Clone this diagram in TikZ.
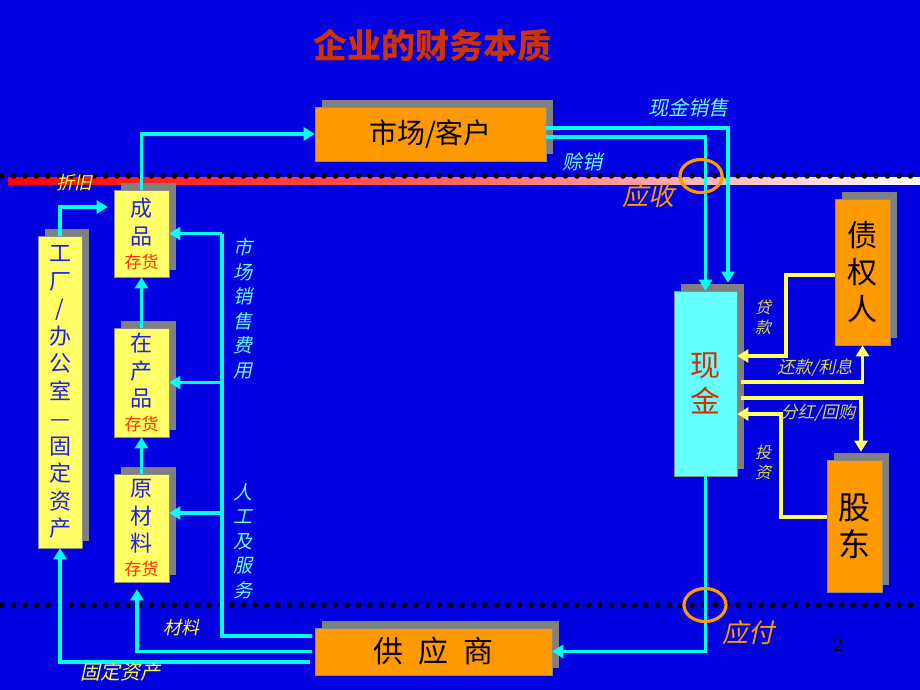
\documentclass[tikz,border=0pt]{standalone}
\usepackage{fontspec}
\setmainfont{Noto Sans CJK SC}
\newfontfamily\cjk{Noto Sans CJK SC}
\newfontfamily\cjki[FakeSlant=0.22]{Noto Sans CJK SC}
\newfontfamily\sernum{Liberation Serif}
\usetikzlibrary{arrows.meta,shadows,shapes.geometric}
\definecolor{bg}{HTML}{0000E0}
\definecolor{boxor}{HTML}{FF9900}
\definecolor{boxye}{HTML}{FFFF66}
\definecolor{boxcy}{HTML}{66FFFF}
\definecolor{shad}{HTML}{808080}
\definecolor{linecy}{HTML}{00FFFF}
\definecolor{lineye}{HTML}{FFFF66}
\definecolor{titlec}{HTML}{CC3300}
\definecolor{txtblue}{HTML}{2020E6}
\definecolor{inv}{HTML}{FF3300}
\definecolor{lblcy}{HTML}{66FFFF}
\definecolor{lblye}{HTML}{FFFF33}
\definecolor{lblol}{HTML}{DADA4A}
\tikzset{
  box/.style={rectangle, inner sep=0pt, draw=black!45, line width=0.6pt,
    general shadow={fill=shad, draw=none, shadow xshift=7pt, shadow yshift=7pt}},
  orbox/.style={box, fill=boxor, text=black},
  yebox/.style={box, fill=boxye, text=txtblue, align=center, minimum width=55pt},
  cl/.style={draw=linecy, line width=3.8pt, -{Triangle[length=11pt,width=13pt]}},
  cln/.style={draw=linecy, line width=3.8pt},
  yl/.style={draw=lineye, line width=3.8pt, -{Triangle[length=11pt,width=13pt]}},
  lbl/.style={inner sep=0pt, align=center},
  ring/.style={ellipse, draw=boxor, line width=3.2pt, minimum width=42pt, minimum height=33pt, inner sep=0pt},
}
\begin{document}
\begin{tikzpicture}[x=1pt,y=-1pt]
\fill[bg] (0,0) rectangle (920,690);
\useasboundingbox (0,0) rectangle (920,690);
% separator bar and dotted lines
\shade[left color=red, right color=white, middle color=red!60!white] (8,177) rectangle (920,184);
\draw[line width=5.5pt, line cap=round, dash pattern=on 0pt off 11.5pt] (2,176) -- (920,176);
\draw[line width=5.5pt, line cap=round, dash pattern=on 0pt off 11.5pt] (2,605) -- (912,605);
% title
\node[lbl, text=titlec, font=\cjk\bfseries\fontsize{34}{36}\selectfont] (title) at (432,45) {企业的财务本质};
% boxes
\node[orbox, minimum width=231pt, minimum height=54pt, font=\cjk\fontsize{28}{30}\selectfont] (market) at (430.5,134) {市场/客户};
\node[orbox, minimum width=237pt, minimum height=47pt, font=\cjk\fontsize{30}{32}\selectfont] (supplier) at (433.5,651.5) {供\hspace{0.5em}应\hspace{0.5em}商};
\node[orbox, minimum width=55pt, minimum height=146pt, align=center, font=\cjk\fontsize{30}{37}\selectfont] (creditor) at (862.5,272) {债\\权\\人};
\node[orbox, minimum width=55pt, minimum height=132pt, align=center, font=\cjk\fontsize{32}{37}\selectfont] (holder) at (854.5,526) {股\\东};
\node[box, fill=boxcy, text=titlec, minimum width=63pt, minimum height=185pt, align=center, font=\cjk\fontsize{30}{36}\selectfont] (cash) at (705.5,383.5) {现\\金};
\node[yebox, minimum height=87pt, font=\cjk\fontsize{22}{28}\selectfont] (fin) at (141.5,233.5) {成\\品\\[-4pt]{\color{inv}\fontsize{17}{20}\selectfont 存货}};
\node[yebox, minimum height=109pt, font=\cjk\fontsize{22}{27.5}\selectfont] (wip) at (141.5,382.5) {在\\产\\品\\[-4pt]{\color{inv}\fontsize{17}{20}\selectfont 存货}};
\node[yebox, minimum height=108pt, font=\cjk\fontsize{22}{27.5}\selectfont] (raw) at (141.5,528) {原\\材\\料\\[-4pt]{\color{inv}\fontsize{17}{20}\selectfont 存货}};
\node[yebox, minimum width=44pt, minimum height=312pt, font=\cjk\fontsize{22}{27.5}\selectfont] (factory) at (60,392) {工\\厂\\/\\办\\公\\室\\—\\固\\定\\资\\产};
% cyan connectors
\draw[cl] (fin.north) |- (market.west);
\draw[cl] ([yshift=6pt]market.east) -| ([xshift=22.5pt,yshift=8pt]cash.north);
\draw[cl] ([yshift=-3pt]market.east) -| (cash.north);
\draw[cl] (cash.south) |- (supplier.east);
\draw[cl] (factory.north) |- ([xshift=-6pt,yshift=26.5pt]fin.west);
\draw[cl] (raw.north) -- (wip.south);
\draw[cl] (wip.north) -- (fin.south);
\coordinate (busA) at (222,233.5);
\coordinate (busB) at (222,382.5);
\coordinate (busC) at (222,513);
\draw[cln] ([xshift=-3pt,yshift=15.5pt]supplier.west) -| (busA);
\draw[cl] (busA) -- (fin.east);
\draw[cl] (busB) -- (wip.east);
\draw[cl] (busC) -- ([yshift=15pt]raw.east);
\draw[cl] ([xshift=-3pt]supplier.west) -| ([xshift=-4.5pt,yshift=-7pt]raw.south);
\draw[cl] ([xshift=-5pt,yshift=-10.5pt]supplier.west) -| (factory.south);
% yellow connectors
\draw[yl] ([yshift=-3pt]creditor.west) -- ++(-49,0) |- ([yshift=27.5pt]cash.east);
\draw[yl] ([xshift=4pt,yshift=1.5pt]cash.east) -| (creditor.south);
\draw[yl] ([xshift=4pt,yshift=-14.5pt]cash.east) -| ([xshift=6.5pt,yshift=8pt]holder.north);
\draw[yl] ([yshift=9pt]holder.west) -- ++(-46,0) |- ([yshift=-30.5pt]cash.east);
% rings
\node[ring] (recv) at (701,176) {};
\node[ring] (pay) at (705,605) {};
% labels
\node[lbl, text=lblcy, font=\cjki\fontsize{20}{22}\selectfont] (lcash) at (688,108) {现金销售};
\node[lbl, text=lblcy, font=\cjki\fontsize{20}{22}\selectfont] (lcredit) at (582,162) {赊销};
\node[lbl, text=boxor, font=\cjki\fontsize{26}{28}\selectfont] (lrecv) at (648,196) {应收};
\node[lbl, text=boxor, font=\cjki\fontsize{26}{28}\selectfont] (lpay) at (748,633) {应付};
\node[lbl, text=lblye, font=\cjki\fontsize{18}{20}\selectfont] (ldep) at (74,183) {折旧};
\node[lbl, text=lblye, font=\cjki\fontsize{18}{20}\selectfont] (lmat) at (181,628) {材料};
\node[lbl, text=lblye, font=\cjki\fontsize{20}{22}\selectfont] (lfix) at (120,672) {固定资产};
\node[lbl, text=lblcy, font=\cjki\fontsize{19}{24.5}\selectfont] (lmkt) at (243,308.5) {市\\场\\销\\售\\费\\用};
\node[lbl, text=lblcy, font=\cjki\fontsize{19}{24.5}\selectfont] (llab) at (243,541) {人\\工\\及\\服\\务};
\node[lbl, text=lblol, font=\cjki\fontsize{16}{20}\selectfont] (lloan) at (763,317) {贷\\款};
\node[lbl, text=lblol, font=\cjki\fontsize{16}{20}\selectfont] (linv) at (763,462) {投\\资};
\node[lbl, text=lblol, font=\cjki\fontsize{17}{19}\selectfont] (lrepay) at (815,368) {还款/利息};
\node[lbl, text=lblol, font=\cjki\fontsize{17}{19}\selectfont] (ldiv) at (818,413) {分红/回购};
\node[lbl, text=black, font=\sernum\fontsize{19}{21}\selectfont] (pnum) at (838,645) {2};
\end{tikzpicture}
\end{document}
